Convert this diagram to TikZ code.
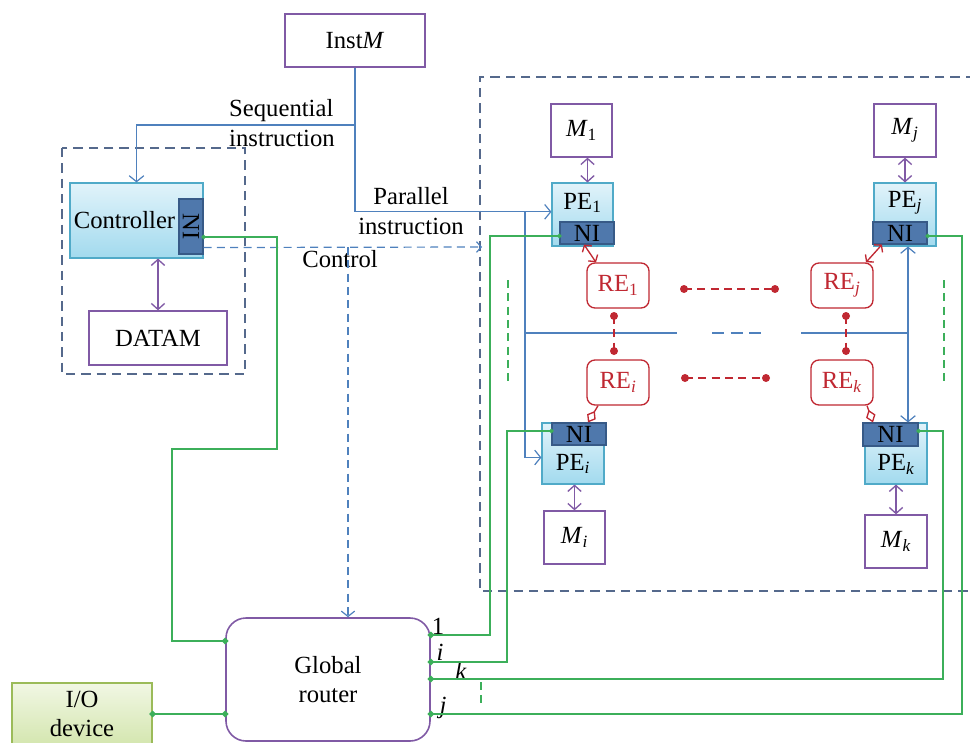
\documentclass[tikz,border=0pt]{standalone}
\usepackage{fontspec}
\setmainfont{Liberation Serif}
\usetikzlibrary{arrows.meta}
\definecolor{bl}{RGB}{79,129,189}
\definecolor{purp}{RGB}{128,90,165}
\definecolor{grn}{RGB}{60,175,90}
\definecolor{dbox}{RGB}{85,105,140}
\definecolor{rd}{RGB}{192,40,50}
\definecolor{petop}{RGB}{225,243,250}
\definecolor{pebot}{RGB}{162,218,238}
\definecolor{peedge}{RGB}{80,170,200}
\definecolor{nifill}{RGB}{79,120,172}
\definecolor{niedge}{RGB}{55,90,135}
\definecolor{iotop}{RGB}{241,247,228}
\definecolor{iobot}{RGB}{212,230,175}
\definecolor{ioedge}{RGB}{155,187,89}
\newcommand\gdia[2]{\fill[grn] (#1) +(-#2,0) -- +(0,#2) -- +(#2,0) -- +(0,-#2) -- cycle;}
\newcommand\sbi[1]{\textsubscript{\textit{#1}}}
\tikzset{
  lbl/.style={font=\fontsize{18.5}{22}\selectfont, inner sep=0pt, align=center},
  sz/.style 2 args={minimum width={#1*0.75pt}, minimum height={#2*0.75pt}},
  mem/.style={draw=purp, line width=1pt, fill=white, lbl},
  pebox/.style={draw=peedge, line width=0.8pt, top color=petop, bottom color=pebot, inner sep=0pt},
  nibox/.style={draw=niedge, line width=0.8pt, fill=nifill, lbl},
  rebox/.style={draw=rd, line width=1pt, rounded corners=6pt, fill=white, text=rd, lbl},
  bline/.style={draw=bl, line width=0.9pt},
  barr/.style={bline, -{Straight Barb[length=4.5pt,width=11pt]}},
  parr/.style={draw=purp, line width=1pt, {Straight Barb[length=4.5pt,width=10pt]}-{Straight Barb[length=4.5pt,width=10pt]}},
  gline/.style={draw=grn, line width=0.9pt},
  gdash/.style={draw=grn, line width=0.9pt, dash pattern=on 6pt off 4pt},
  dline/.style={draw=dbox, line width=0.9pt, dash pattern=on 7pt off 4.5pt},
  cline/.style={draw=bl, line width=0.9pt, dash pattern=on 6pt off 4pt},
  rdash/.style={draw=rd, line width=1pt, dash pattern=on 6pt off 4pt},
  rarr/.style={draw=rd, line width=1pt, {Straight Barb[length=3.5pt,width=8.5pt]}-{Straight Barb[length=3.5pt,width=8.5pt]}},
  rdia/.style={draw=rd, line width=1pt, -{Diamond[open,length=10pt,width=7.5pt]}},
}
\begin{document}
\begin{tikzpicture}[x=0.75pt,y=-0.75pt]
\useasboundingbox (0,0) rectangle (970,742);
\clip (0,0) rectangle (970,742);

% dashed frames
\draw[dline] (62,148) rectangle (245,374);
\draw[dline] (975,77) -- (480,77) -- (480,591) -- (975,591);

% nodes
\node[mem, sz={140}{53}] (instm) at (355,40.5) {Inst\textit{M}};
\node[pebox, sz={133}{75}] (ctrl) at (136.5,220.5) {};
\node[lbl] (ctrlt) at (124.5,220) {Controller};
\node[nibox, rotate=-90, sz={55}{24}] (ctrlni) at (191,226.5) {NI};
\node[mem, sz={138}{54}] (datam) at (158,338) {DATAM};
\node[draw=purp, line width=1.2pt, rounded corners=15pt, sz={204}{123}, lbl] (router) at (328,679.5) {Global\\router};
\node[draw=ioedge, line width=1pt, top color=iotop, bottom color=iobot, sz={140}{62}, lbl] (io) at (82,714) {I/O\\device};

\node[mem, sz={61}{53}] (m1) at (581.5,130.5) {\textit{M}\textsubscript{1}};
\node[mem, sz={62}{53}] (mj) at (905,130.5) {\textit{M}\sbi{j}};
\node[mem, sz={61}{53}] (mi) at (574.5,537.5) {\textit{M}\sbi{i}};
\node[mem, sz={62}{53}] (mk) at (896,541.5) {\textit{M}\sbi{k}};

\node[pebox, sz={61}{63}] (pe1) at (582.5,214.5) {};
\node[lbl] (pe1t) at (582.5,203) {PE\textsubscript{1}};
\node[nibox, sz={54}{22}] (ni1) at (587,233) {NI};
\node[pebox, sz={62}{63}] (pej) at (905,214.5) {};
\node[lbl] (pejt) at (905,203) {PE\sbi{j}};
\node[nibox, sz={54}{22}] (nij) at (900,233) {NI};
\node[pebox, sz={62}{61}] (pei) at (573,453.5) {};
\node[lbl] (peit) at (573,464) {PE\sbi{i}};
\node[nibox, sz={54}{22}] (nii) at (579,434) {NI};
\node[pebox, sz={62}{61}] (pek) at (896,453.5) {};
\node[lbl] (pekt) at (896,464) {PE\sbi{k}};
\node[nibox, sz={55}{23}] (nik) at (890.5,434.5) {NI};

\node[rebox, sz={62}{45}] (re1) at (618,285.5) {RE\textsubscript{1}};
\node[rebox, sz={62}{45}] (rej) at (842,285.5) {RE\sbi{j}};
\node[rebox, sz={62}{45}] (rei) at (618,382.5) {RE\sbi{i}};
\node[rebox, sz={62}{45}] (rek) at (842,382.5) {RE\sbi{k}};

% labels
\node[lbl, align=left] (seq) at (282,123) {Sequential\\instruction};
\node[lbl] (par) at (411,211) {Parallel\\instruction};
\node[lbl] (ctl) at (340,259) {Control};
\node[lbl] (l1) at (438,626) {1};
\node[lbl] (li) at (440,652) {\textit{i}};
\node[lbl] (lk) at (461,671) {\textit{k}};
\node[lbl] (lj) at (443,708) {\textit{j}};

% purple memory links
\draw[parr] (datam.north |- ctrl.south) -- (datam.north);
\draw[parr] ([xshift=4.5pt]m1.south) -- ([xshift=4.5pt]m1.south |- pe1.north);
\draw[parr] (mj.south) -- (mj.south |- pej.north);
\draw[parr] (mi.north |- pei.south) -- (mi.north);
\draw[parr] (mk.north |- pek.south) -- (mk.north);

% blue instruction lines
\coordinate (s1) at (355,125);
\draw[bline] (instm.south) -- (s1);
\draw[barr] (s1) -| (ctrl.north);
\draw[barr] (s1) |- ([yshift=2pt]pe1.west);
\coordinate (b1) at (525,212);
\draw[barr] (b1) |- ([yshift=-3pt]pei.west);
\coordinate (h1) at (525,333);
\coordinate (h2) at (677,333);
\coordinate (h3) at (712,333);
\coordinate (h4) at (767,333);
\coordinate (h5) at (801,333);
\coordinate (h6) at (908,333);
\draw[bline] (h1) -- (h2);
\draw[bline, dash pattern=on 9pt off 5pt] (h3) -- (h4);
\draw[bline] (h5) -- (h6);
\draw[barr] (h6) -- (h6 |- pej.south);
\draw[barr] (h6) -- (h6 |- pek.north);

% control lines
\coordinate (cend) at (482,247);
\coordinate (cB) at (348,247);
\draw[cline, -{Straight Barb[length=3.5pt,width=8pt]}] ([yshift=8.25pt]ctrl.south east) -- (cend);
\draw[cline, -{Straight Barb[length=4pt,width=10pt]}] (cB) -- (cB |- router.north);

% green network lines
\coordinate (rw1) at ([yshift=28.875pt]router.west);
\coordinate (rw2) at ([yshift=-25.875pt]router.west);
\coordinate (pt1) at ([yshift=33.375pt]router.east);
\coordinate (pti) at ([yshift=13.125pt]router.east);
\coordinate (ptk) at ([yshift=0.375pt]router.east);
\coordinate (ptj) at ([yshift=-25.875pt]router.east);
\coordinate (cni) at ([yshift=-12.4pt]ctrl.east);
\coordinate (n1) at ([yshift=-2.25pt]ni1.west);
\coordinate (ni) at ([yshift=2.25pt]nii.west);
\coordinate (nk) at ([yshift=2.625pt]nik.east);
\coordinate (nj) at ([yshift=-2.25pt]nij.east);
\draw[gline] (cni) -| (277,449) -| (172,641) -- (rw1);
\draw[gline] (io.east) -- (rw2);
\draw[gline] (pt1) -| (490,236) -- (n1);
\draw[gline] (pti) -| (507,431) -- (ni);
\draw[gline] (ptk) -| (943,431) -- (nk);
\draw[gline] (ptj) -| (962,236) -- (nj);
\gdia{rw1}{3.5}
\gdia{rw2}{3.5}
\gdia{io.east}{3.5}
\gdia{pt1}{3.5}
\gdia{pti}{3.5}
\gdia{ptk}{3.5}
\gdia{ptj}{3.5}
\gdia{cni}{2.5}
\gdia{n1}{2.5}
\gdia{ni}{2.5}
\gdia{nk}{2.5}
\gdia{nj}{2.5}
\draw[gdash] (508,280) -- (508,383);
\draw[gdash] (944,280) -- (944,383);
\draw[gdash] (481,682) -- (481,705);

% red links
\draw[rarr] ([xshift=-2.25pt]ni1.south) -- ([xshift=-16.5pt]re1.north);
\draw[rarr] ([xshift=18pt]rej.north) -- ([xshift=-13.5pt]nij.south);
\draw[rdia] ([xshift=-15pt]rei.south) -- ([xshift=6.75pt]nii.north);
\draw[rdia] ([xshift=18.75pt]rek.south) -- ([xshift=-13.125pt]nik.north);

\coordinate (d1) at (684,289); \coordinate (d2) at (775,289);
\coordinate (d3) at (685,378); \coordinate (d4) at (766,378);
\coordinate (d5) at (614,316); \coordinate (d6) at (614,351);
\coordinate (d7) at (846,316); \coordinate (d8) at (846,351);
\draw[rdash] (d1) -- (d2);
\draw[rdash] (d3) -- (d4);
\draw[rdash] (d5) -- (d6);
\draw[rdash] (d7) -- (d8);
\foreach \d in {d1,d2,d3,d4,d5,d6,d7,d8} \fill[rd] (\d) circle (3pt);
\end{tikzpicture}
\end{document}
